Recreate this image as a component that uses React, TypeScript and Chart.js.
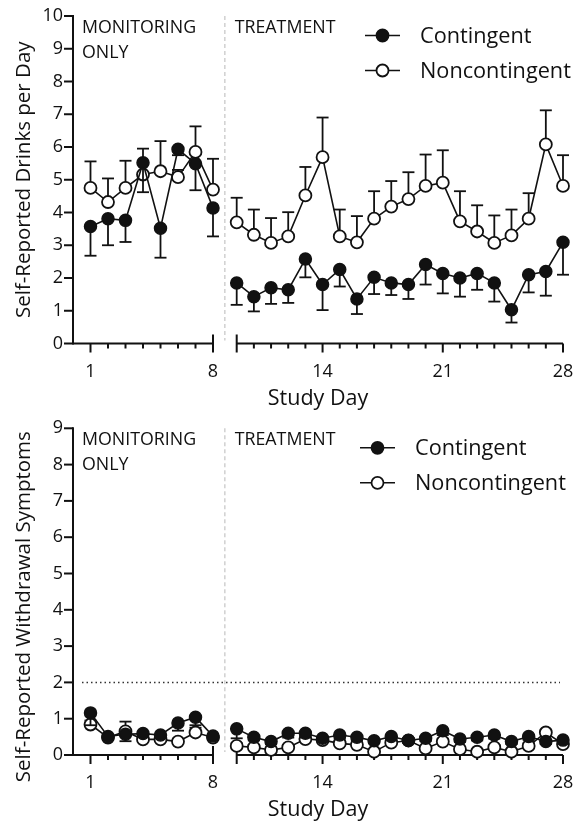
import React, { useEffect, useRef } from "react";
import { Chart, registerables } from "chart.js";

Chart.register(...registerables);

// ---------- data ----------
const monitoringDays = [1, 2, 3, 4, 5, 6, 7, 8];
const treatmentDays = [9, 10, 11, 12, 13, 14, 15, 16, 17, 18, 19, 20, 21, 22, 23, 24, 25, 26, 27, 28];
const monitoringTickLabels = [1, 8];
const treatmentTickLabels = [14, 21, 28];
const seriesNames = ["Contingent", "Noncontingent"];
const phaseMonitoring = ["MONITORING", "ONLY"];
const phaseTreatment = "TREATMENT";
const xTitle = "Study Day";

// Panel A: drinks per day (contingent error bars go down, noncontingent up)
const drinksContMon = [3.57, 3.81, 3.76, 5.52, 3.52, 5.93, 5.49, 4.14];
const drinksContMonLow = [2.68, 3.0, 3.1, 4.62, 2.62, 5.75, 4.68, 3.27];
const drinksContTx = [1.85, 1.43, 1.7, 1.64, 2.58, 1.8, 2.26, 1.36, 2.02, 1.85, 1.8, 2.41, 2.14, 2.0, 2.14, 1.85, 1.03, 2.1, 2.2, 3.09];
const drinksContTxLow = [1.18, 0.98, 1.21, 1.24, 2.02, 1.02, 1.74, 0.9, 1.51, 1.48, 1.36, 1.8, 1.53, 1.43, 1.64, 1.28, 0.64, 1.56, 1.46, 2.1];
const drinksNonMon = [4.75, 4.32, 4.75, 5.16, 5.26, 5.08, 5.85, 4.7];
const drinksNonMonHigh = [5.56, 5.04, 5.58, 5.95, 6.18, 5.3, 6.63, 5.64];
const drinksNonTx = [3.7, 3.32, 3.07, 3.27, 4.52, 5.69, 3.27, 3.09, 3.81, 4.18, 4.41, 4.81, 4.91, 3.73, 3.42, 3.07, 3.3, 3.81, 6.08, 4.81];
const drinksNonTxHigh = [4.45, 4.09, 3.83, 4.01, 5.39, 6.9, 4.09, 3.89, 4.65, 4.96, 5.23, 5.77, 5.9, 4.65, 4.22, 3.91, 4.09, 4.59, 7.12, 5.75];

// Panel B: withdrawal symptoms
const wdContMon = [1.16, 0.51, 0.57, 0.59, 0.55, 0.88, 1.04, 0.52];
const wdContMonLow = [0.82, 0.42, 0.38, 0.5, 0.47, 0.67, 0.82, 0.42];
const wdContTx = [0.72, 0.49, 0.37, 0.6, 0.6, 0.46, 0.55, 0.49, 0.39, 0.51, 0.4, 0.46, 0.67, 0.44, 0.49, 0.55, 0.37, 0.51, 0.37, 0.41];
const wdContTxLow = [0.46, 0.4, 0.3, 0.48, 0.48, 0.4, 0.45, 0.4, 0.32, 0.42, 0.33, 0.38, 0.55, 0.36, 0.4, 0.45, 0.3, 0.42, 0.3, 0.35];
const wdNonMon = [0.84, 0.48, 0.65, 0.43, 0.43, 0.37, 0.62, 0.48];
const wdNonMonHigh = [0.95, 0.52, 0.92, 0.5, 0.5, 0.45, 0.75, 0.55];
const wdNonTx = [0.25, 0.21, 0.14, 0.21, 0.44, 0.41, 0.32, 0.28, 0.09, 0.34, 0.4, 0.18, 0.37, 0.16, 0.09, 0.21, 0.09, 0.25, 0.62, 0.3];
const wdNonTxHigh = [0.32, 0.28, 0.2, 0.28, 0.5, 0.48, 0.4, 0.35, 0.15, 0.4, 0.46, 0.25, 0.45, 0.22, 0.15, 0.28, 0.15, 0.32, 0.7, 0.36];
const wdThreshold = 2;

// ---------- styling ----------
const FONT = "'Open Sans', 'Noto Sans', sans-serif";
const INK = "#111";

const pts = (xs: number[], ys: number[]) => xs.map((x, i) => ({ x, y: ys[i] }));

interface PanelSpec {
  height: number;
  padTop: number;
  padBottom: number;
  yMax: number;
  yTitle: string;
  yTitleShift: number;
  legendX: number;
  refLine: number | null;
  contMon: number[]; contMonErr: number[];
  contTx: number[]; contTxErr: number[];
  nonMon: number[]; nonMonErr: number[];
  nonTx: number[]; nonTxErr: number[];
}

function makeChart(canvas: HTMLCanvasElement, p: PanelSpec) {
  const filled = {
    borderColor: INK, borderWidth: 1.6,
    pointBackgroundColor: INK, pointBorderColor: INK,
    pointRadius: 6, pointBorderWidth: 1.5, pointHoverRadius: 6,
    fill: false, tension: 0, clip: false as any,
  };
  const open = {
    ...filled,
    pointBackgroundColor: "#fff",
    pointBorderWidth: 1.8,
  };

  const SEG1 = 140 / 490;
  const SEG2 = 163.7 / 490;

  const plugin = {
    id: "panelDecor",
    afterLayout(chart: any) {
      const a = chart.chartArea;
      const w = a.right - a.left;
      const xm = chart.scales.xm;
      const xt = chart.scales.xt;
      xm.left = a.left; xm.right = a.left + w * SEG1; xm.width = xm.right - xm.left;
      xm.top = a.bottom; xm.bottom = a.bottom; xm.configure();
      xt.left = a.left + w * SEG2; xt.right = a.right; xt.width = xt.right - xt.left;
      xt.top = a.bottom; xt.bottom = a.bottom; xt.configure();
    },
    beforeDatasetsDraw(chart: any) {
      const ctx: CanvasRenderingContext2D = chart.ctx;
      const a = chart.chartArea;
      const xm = chart.scales.xm, xt = chart.scales.xt, ys = chart.scales.y;
      const y0 = ys.getPixelForValue(0);
      const xmEnd = xm.getPixelForValue(8);
      const xtStart = xt.getPixelForValue(9);
      ctx.save();
      // phase separator
      const sepX = (xmEnd + xtStart) / 2;
      ctx.strokeStyle = "#c9c9c9"; ctx.lineWidth = 1.3; ctx.setLineDash([4, 3]);
      ctx.beginPath(); ctx.moveTo(sepX, a.top); ctx.lineTo(sepX, y0 - 3); ctx.stroke();
      ctx.setLineDash([]);
      // reference line
      if (p.refLine !== null) {
        const yr = ys.getPixelForValue(p.refLine);
        ctx.strokeStyle = "#333"; ctx.lineWidth = 1.5; ctx.setLineDash([1.5, 3]);
        ctx.beginPath(); ctx.moveTo(a.left + 9, yr); ctx.lineTo(a.right - 3, yr); ctx.stroke();
        ctx.setLineDash([]);
      }
      // y axis
      ctx.strokeStyle = INK; ctx.lineWidth = 2;
      ctx.beginPath(); ctx.moveTo(a.left, ys.getPixelForValue(p.yMax) - 1); ctx.lineTo(a.left, y0 + 1); ctx.stroke();
      ctx.font = `18px ${FONT}`; ctx.fillStyle = INK;
      ctx.textAlign = "right"; ctx.textBaseline = "middle";
      for (let v = 0; v <= p.yMax; v++) {
        const y = ys.getPixelForValue(v);
        ctx.beginPath(); ctx.moveTo(a.left - 9, y); ctx.lineTo(a.left, y); ctx.stroke();
        ctx.fillText(String(v), a.left - 10, y);
      }
      // x axis segments
      ctx.beginPath(); ctx.moveTo(a.left, y0); ctx.lineTo(xmEnd, y0); ctx.stroke();
      ctx.beginPath(); ctx.moveTo(xtStart, y0); ctx.lineTo(xt.getPixelForValue(28), y0); ctx.stroke();
      ctx.textAlign = "center";
      const tick = (x: number, labelled: boolean, cap: boolean) => {
        ctx.beginPath();
        ctx.moveTo(x, cap ? y0 - 9 : y0);
        ctx.lineTo(x, y0 + (labelled || cap ? 9 : 5));
        ctx.stroke();
      };
      monitoringDays.forEach((d) => {
        const x = xm.getPixelForValue(d);
        const lab = monitoringTickLabels.includes(d);
        tick(x, lab, d === 8);
        if (lab) ctx.fillText(String(d), x, y0 + 28);
      });
      treatmentDays.forEach((d) => {
        const x = xt.getPixelForValue(d);
        const lab = treatmentTickLabels.includes(d);
        tick(x, lab, d === 9);
        if (lab) ctx.fillText(String(d), x, y0 + 28);
      });
      // axis titles
      ctx.font = `21.5px ${FONT}`;
      ctx.fillText(xTitle, (a.left + a.right) / 2, y0 + 55);
      ctx.save();
      ctx.font = `20.5px ${FONT}`;
      ctx.translate(24, (a.top + y0) / 2 + p.yTitleShift);
      ctx.rotate(-Math.PI / 2);
      ctx.fillText(p.yTitle, 0, 0);
      ctx.restore();
      // phase labels
      ctx.font = `17.8px ${FONT}`; ctx.textAlign = "left"; ctx.textBaseline = "alphabetic";
      ctx.fillText(phaseMonitoring[0], a.left + 9, a.top + 17);
      ctx.fillText(phaseMonitoring[1], a.left + 9, a.top + 42);
      ctx.fillText(phaseTreatment, xtStart - 2, a.top + 17);
      ctx.restore();
    },
    beforeDatasetDraw(chart: any, args: any) {
      const ds: any = chart.data.datasets[args.index];
      const ends: number[] | undefined = ds.errorEnds;
      if (!ends) return;
      const ctx: CanvasRenderingContext2D = chart.ctx;
      const xs = chart.scales[ds.xAxisID], ys = chart.scales.y;
      ctx.save();
      ctx.strokeStyle = INK; ctx.lineWidth = 1.8;
      ds.data.forEach((pt: any, i: number) => {
        const x = xs.getPixelForValue(pt.x);
        const y1 = ys.getPixelForValue(pt.y);
        const y2 = ys.getPixelForValue(ends[i]);
        ctx.beginPath(); ctx.moveTo(x, y1); ctx.lineTo(x, y2); ctx.stroke();
        ctx.beginPath(); ctx.moveTo(x - 6, y2); ctx.lineTo(x + 6, y2); ctx.stroke();
      });
      ctx.restore();
    },
    afterDraw(chart: any) {
      const ctx: CanvasRenderingContext2D = chart.ctx;
      const a = chart.chartArea;
      ctx.save();
      seriesNames.forEach((name, i) => {
        const y = a.top + 19.5 + i * 35;
        const x0 = p.legendX;
        ctx.strokeStyle = INK; ctx.lineWidth = 1.6;
        ctx.beginPath(); ctx.moveTo(x0, y); ctx.lineTo(x0 + 35, y); ctx.stroke();
        ctx.beginPath(); ctx.arc(x0 + 17.5, y, 6, 0, Math.PI * 2);
        ctx.fillStyle = i === 0 ? INK : "#fff"; ctx.fill();
        ctx.lineWidth = 1.8; ctx.stroke();
        ctx.fillStyle = INK; ctx.font = `21.7px ${FONT}`;
        ctx.textAlign = "left"; ctx.textBaseline = "middle";
        ctx.fillText(name, x0 + 55, y + 1);
      });
      ctx.restore();
    },
  };

  return new Chart(canvas, {
    type: "line",
    data: {
      datasets: [
        { label: seriesNames[0], data: pts(monitoringDays, p.contMon), xAxisID: "xm", yAxisID: "y", errorEnds: p.contMonErr, ...filled } as any,
        { label: seriesNames[0], data: pts(treatmentDays, p.contTx), xAxisID: "xt", yAxisID: "y", errorEnds: p.contTxErr, ...filled } as any,
        { label: seriesNames[1], data: pts(monitoringDays, p.nonMon), xAxisID: "xm", yAxisID: "y", errorEnds: p.nonMonErr, ...open } as any,
        { label: seriesNames[1], data: pts(treatmentDays, p.nonTx), xAxisID: "xt", yAxisID: "y", errorEnds: p.nonTxErr, ...open } as any,
      ],
    },
    options: {
      responsive: false,
      maintainAspectRatio: false,
      animation: false,
      events: [],
      layout: { padding: { left: 73, right: 13, top: p.padTop, bottom: p.padBottom } },
      plugins: { legend: { display: false }, tooltip: { enabled: false } },
      scales: {
        xm: { type: "linear", min: 0, max: 8, display: false },
        xt: { type: "linear", min: 9, max: 28, display: false },
        y: { type: "linear", min: 0, max: p.yMax, display: false },
      },
    },
    plugins: [plugin as any],
  });
}

const panelA: PanelSpec = {
  height: 415, padTop: 16, padBottom: 71.5, yMax: 10,
  yTitle: "Self-Reported Drinks per Day", yTitleShift: 0, legendX: 365, refLine: null,
  contMon: drinksContMon, contMonErr: drinksContMonLow,
  contTx: drinksContTx, contTxErr: drinksContTxLow,
  nonMon: drinksNonMon, nonMonErr: drinksNonMonHigh,
  nonTx: drinksNonTx, nonTxErr: drinksNonTxHigh,
};

const panelB: PanelSpec = {
  height: 408, padTop: 13.3, padBottom: 68, yMax: 9,
  yTitle: "Self-Reported Withdrawal Symptoms", yTitleShift: 15, legendX: 360, refLine: wdThreshold,
  contMon: wdContMon, contMonErr: wdContMonLow,
  contTx: wdContTx, contTxErr: wdContTxLow,
  nonMon: wdNonMon, nonMonErr: wdNonMonHigh,
  nonTx: wdNonTx, nonTxErr: wdNonTxHigh,
};

function Panel({ spec }: { spec: PanelSpec }) {
  const ref = useRef<HTMLCanvasElement | null>(null);
  useEffect(() => {
    if (!ref.current) return;
    const chart = makeChart(ref.current, spec);
    return () => chart.destroy();
  }, [spec]);
  return (
    <canvas
      ref={ref}
      width={576}
      height={spec.height}
      style={{ display: "block", width: 576, height: spec.height }}
    />
  );
}

export default function App() {
  return (
    <div style={{ position: "absolute", left: 0, top: 0, width: 576, height: 823, background: "#fff" }}>
      <Panel spec={panelA} />
      <Panel spec={panelB} />
    </div>
  );
}
